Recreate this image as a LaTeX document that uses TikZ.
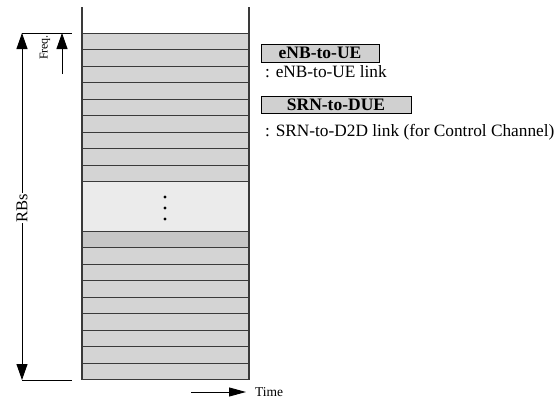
\documentclass[tikz,border=0pt]{standalone}
\usepackage{fontspec}
\setmainfont{Liberation Serif}
\usetikzlibrary{arrows.meta}
\definecolor{rowgray}{HTML}{D4D4D4}
\definecolor{rowdark}{HTML}{C6C6C6}
\definecolor{gaplight}{HTML}{EBEBEB}
\definecolor{legfill}{HTML}{D0D0D0}
\definecolor{edge}{HTML}{3A3A3A}
\tikzset{
  rowbox/.style={draw=edge, line width=0.9pt, fill=rowgray, minimum width=167pt, minimum height=16.52pt, inner sep=0pt, outer sep=0pt, anchor=north west},
  gapbox/.style={draw=edge, line width=0.9pt, fill=gaplight, minimum width=167pt, minimum height=51pt, inner sep=0pt, outer sep=0pt, anchor=north west},
  side/.style={draw=edge, line width=1.2pt},
  legbox/.style={draw=black, line width=0.8pt, fill=legfill, inner sep=0pt, font=\fontsize{17.5}{19}\selectfont\bfseries},
  legtext/.style={anchor=base west, inner sep=0pt, font=\fontsize{17.3}{19}\selectfont},
  bigarrow/.style={draw=black, line width=0.9pt, -{Triangle[length=16pt,width=11pt]}},
  bothwarrow/.style={draw=black, line width=0.9pt, {Triangle[length=16pt,width=11pt]}-{Triangle[length=16pt,width=11pt]}},
  tick/.style={draw=black, line width=0.8pt},
  dotmark/.style={circle, fill=black, inner sep=0pt, minimum size=3.2pt}
}
\begin{document}
\begin{tikzpicture}[x=1pt,y=-1pt]
\useasboundingbox (0,0) rectangle (560,399);
% rows above gap
\foreach \i in {0,...,8}{
  \node[rowbox] (ra\i) at (82,{33+16.52*\i}) {};
}
\node[gapbox] (gap) at (82,{33+16.52*9}) {};
\node[rowbox, fill=rowdark] (rb0) at (82,{33+16.52*12}) {};
\foreach \i in {1,...,8}{
  \node[rowbox] (rb\i) at (82,{33+16.52*(12+\i)}) {};
}
% dots
\node[dotmark] (d1) at (165,197) {};
\node[dotmark] (d2) at (165,208) {};
\node[dotmark] (d3) at (165,219) {};
% side lines
\coordinate (tl) at (82,7);
\coordinate (tr) at (249,7);
\draw[side] (tl) -- (rb8.south west);
\draw[side] (tr) -- (rb8.south east);
% RBs arrow
\coordinate (rbtop) at (22,33);
\coordinate (rbbot) at (22,380);
\coordinate (ticktopend) at (72,33);
\coordinate (tickbotend) at (72,380);
\draw[tick] (rbtop) -- (ticktopend);
\draw[tick] (rbbot) -- (tickbotend);
\draw[bothwarrow] (rbtop) -- (rbbot);
\node[fill=white, inner sep=1pt, rotate=90, font=\fontsize{16.5}{18}\selectfont] (rbs) at (22,208) {RBs};
% Freq arrow
\coordinate (fqbot) at (62,74);
\coordinate (fqtop) at (62,33);
\draw[bigarrow] (fqbot) -- (fqtop);
\node[rotate=90, inner sep=0pt, font=\fontsize{12}{13}\selectfont] (freq) at (45,47.5) {Freq.};
% Time arrow
\coordinate (tstart) at (191,392);
\coordinate (tend) at (246,392);
\draw[draw=black, line width=0.9pt, -{Triangle[length=17pt,width=9pt]}] (tstart) -- (tend);
\node[anchor=base west, inner sep=0pt, font=\fontsize{13.5}{15}\selectfont] (time) at (255,396) {Time};
% legend
\node[legbox, minimum width=118pt, minimum height=18pt] (leg1) at (320,53) {eNB-to-UE};
\node[legtext] (leg1t) at (265,77) {: eNB-to-UE link};
\node[legbox, minimum width=150pt, minimum height=17pt] (leg2) at (336,104.5) {SRN-to-DUE};
\node[legtext] (leg2t) at (265,136) {: SRN-to-D2D link (for Control Channel)};
\end{tikzpicture}
\end{document}
